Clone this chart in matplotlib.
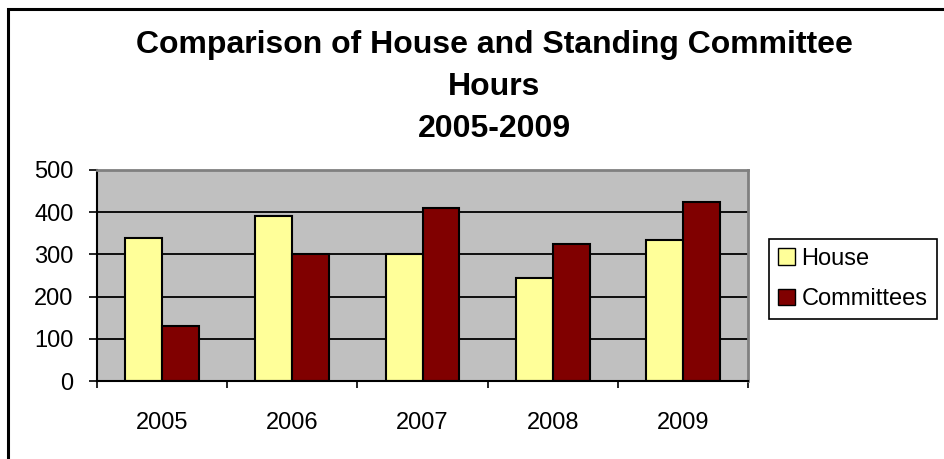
import numpy as np
import matplotlib
matplotlib.use("Agg")
import matplotlib.pyplot as plt
from matplotlib.patches import Patch, Rectangle

years = ["2005", "2006", "2007", "2008", "2009"]
house = [338, 390, 300, 243, 334]
committees = [131, 300, 409, 324, 424]
yticks = [0, 100, 200, 300, 400, 500]

plt.rcParams['font.family'] = ['Liberation Sans', 'DejaVu Sans']

W, H = 944, 459
fig = plt.figure(figsize=(W / 100, H / 100), dpi=100)

# outer chart frame (right/bottom sit outside the picture)
fig.patches.append(Rectangle((8 / W, -0.1), 1.2, (H - 9) / H + 0.1,
                             transform=fig.transFigure, fill=False,
                             edgecolor='black', lw=2.2, clip_on=False))

ax = fig.add_axes([97 / W, (H - 381) / H, (748 - 97) / W, (381 - 170) / H])
ax.set_facecolor('#C0C0C0')

x = np.arange(len(years))
w = 0.284
ax.bar(x - w / 2, house, w, color='#FFFF99', edgecolor='black', lw=1.5, label='House')
ax.bar(x + w / 2, committees, w, color='#800000', edgecolor='black', lw=1.5, label='Committees')

ax.set_xlim(-0.5, len(years) - 0.5)
ax.set_ylim(0, 500)
ax.set_yticks(yticks)
ax.yaxis.grid(True, color='black', lw=1.3)
ax.set_axisbelow(True)

ax.set_xticks(np.arange(-0.5, len(years)), labels=[])
ax.set_xticks(x, labels=years, minor=True)
ax.tick_params(axis='x', which='major', direction='out', length=5, width=1.2)
ax.tick_params(axis='x', which='minor', length=0, pad=22, labelsize=17)
ax.tick_params(axis='y', direction='out', length=6, width=1.2, pad=11, labelsize=17)

for s in ['left', 'bottom']:
    ax.spines[s].set_color('black')
    ax.spines[s].set_linewidth(1.5)
for s in ['top', 'right']:
    ax.spines[s].set_color('#808080')
    ax.spines[s].set_linewidth(2)

fig.text(494 / W, 1 - 30 / H, "Comparison of House and Standing Committee\nHours\n2005-2009",
         ha='center', va='top', fontsize=23, fontweight='bold', linespacing=1.52)

handles = [Patch(facecolor='#FFFF99', edgecolor='black', lw=1),
           Patch(facecolor='#800000', edgecolor='black', lw=1)]
leg = fig.legend(handles, ['House', 'Committees'], loc='center left',
                 bbox_to_anchor=(769 / W, 1 - 279 / H), fontsize=17,
                 handlelength=0.7, handleheight=0.7, handletextpad=0.3,
                 labelspacing=0.8, borderpad=0.38, fancybox=False, framealpha=1,
                 edgecolor='black', borderaxespad=0)
leg.get_frame().set_linewidth(1.2)

fig.savefig("out.png", dpi=100)
